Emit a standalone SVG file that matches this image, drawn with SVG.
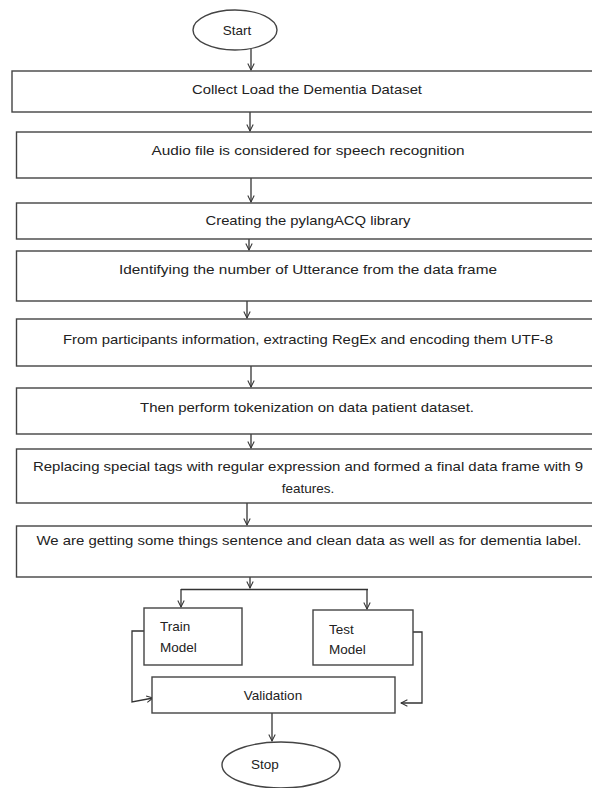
<svg xmlns="http://www.w3.org/2000/svg" width="592" height="788" viewBox="0 0 592 788">
<style>
.box{fill:#fff;stroke:#444;stroke-width:1.4}
.t{font-family:"Liberation Sans",Arial,sans-serif;font-size:13.5px;fill:#222}
.c{text-anchor:middle}
.ln{fill:none;stroke:#333;stroke-width:1.3}
</style>
<defs>
<marker id="ah" viewBox="0 0 10 10" refX="9" refY="5" markerWidth="8" markerHeight="8" markerUnits="userSpaceOnUse" orient="auto">
<path d="M1,1 L9,5 L1,9" fill="none" stroke="#333" stroke-width="1.3"/>
</marker>
</defs>
<rect width="592" height="788" fill="#fff"/>
<g id="connectors">
<line class="ln" x1="251" y1="49" x2="251" y2="70" marker-end="url(#ah)"/>
<line class="ln" x1="250" y1="112" x2="250" y2="131" marker-end="url(#ah)"/>
<line class="ln" x1="251" y1="178" x2="251" y2="202" marker-end="url(#ah)"/>
<line class="ln" x1="249" y1="228" x2="249" y2="250" marker-end="url(#ah)"/>
<line class="ln" x1="247" y1="301" x2="247" y2="318" marker-end="url(#ah)"/>
<line class="ln" x1="251" y1="366" x2="251" y2="387" marker-end="url(#ah)"/>
<line class="ln" x1="251" y1="434" x2="251" y2="448" marker-end="url(#ah)"/>
<line class="ln" x1="247" y1="503" x2="247" y2="525" marker-end="url(#ah)"/>
<line class="ln" x1="250" y1="577" x2="250" y2="588" marker-end="url(#ah)"/>
<line class="ln" x1="181" y1="589.5" x2="368" y2="589.5"/>
<line class="ln" x1="181" y1="589" x2="181" y2="607" marker-end="url(#ah)"/>
<line class="ln" x1="367" y1="589" x2="367" y2="609" marker-end="url(#ah)"/>
<path class="ln" d="M144,631 H132 V702 L153,698" marker-end="url(#ah)"/>
<path class="ln" d="M413,632 H422 V703 H401" marker-end="url(#ah)"/>
<line class="ln" x1="272" y1="713" x2="272" y2="741" marker-end="url(#ah)"/>
</g>
<g id="start">
<ellipse class="box" cx="235" cy="30" rx="42" ry="20"/>
<text class="t c" x="237" y="35">Start</text>
</g>
<g id="n1">
<rect class="box" x="12" y="71" width="590" height="41"/>
<text class="t c" x="307" y="94" textLength="230" lengthAdjust="spacingAndGlyphs">Collect Load the Dementia Dataset</text>
</g>
<g id="n2">
<rect class="box" x="16.5" y="132" width="590" height="46"/>
<text class="t c" x="308" y="155" textLength="313" lengthAdjust="spacingAndGlyphs">Audio file is considered for speech recognition</text>
</g>
<g id="n3">
<rect class="box" x="16.5" y="203" width="590" height="36"/>
<text class="t c" x="308" y="225" textLength="205" lengthAdjust="spacingAndGlyphs">Creating the pylangACQ library</text>
</g>
<g id="n4">
<rect class="box" x="16.5" y="251" width="590" height="50"/>
<text class="t c" x="308" y="274" textLength="378" lengthAdjust="spacingAndGlyphs">Identifying the number of Utterance from the data frame</text>
</g>
<g id="n5">
<rect class="box" x="16.5" y="319" width="590" height="47"/>
<text class="t c" x="308" y="344" textLength="490" lengthAdjust="spacingAndGlyphs">From participants information, extracting RegEx and encoding them UTF-8</text>
</g>
<g id="n6">
<rect class="box" x="16.5" y="388" width="590" height="46"/>
<text class="t c" x="307" y="412" textLength="334" lengthAdjust="spacingAndGlyphs">Then perform tokenization on data patient dataset.</text>
</g>
<g id="n7">
<rect class="box" x="16.5" y="449" width="590" height="54"/>
<text class="t c" x="308" y="471" textLength="550" lengthAdjust="spacingAndGlyphs">Replacing special tags with regular expression and formed a final data frame with 9</text>
<text class="t c" x="308" y="493">features.</text>
</g>
<g id="n8">
<rect class="box" x="16.5" y="526" width="590" height="51"/>
<text class="t c" x="309" y="545" textLength="545" lengthAdjust="spacingAndGlyphs">We are getting some things sentence and clean data as well as for dementia label.</text>
</g>
<g id="train">
<rect class="box" x="144" y="608" width="98" height="57"/>
<text class="t" x="160" y="631">Train</text>
<text class="t" x="160" y="652">Model</text>
</g>
<g id="test">
<rect class="box" x="313" y="610" width="100" height="55"/>
<text class="t" x="329" y="634">Test</text>
<text class="t" x="329" y="654">Model</text>
</g>
<g id="validation">
<rect class="box" x="152" y="677" width="243" height="36"/>
<text class="t c" x="273" y="700">Validation</text>
</g>
<g id="stop">
<ellipse class="box" cx="281" cy="765" rx="59" ry="23"/>
<text class="t c" x="265" y="769">Stop</text>
</g>
</svg>
